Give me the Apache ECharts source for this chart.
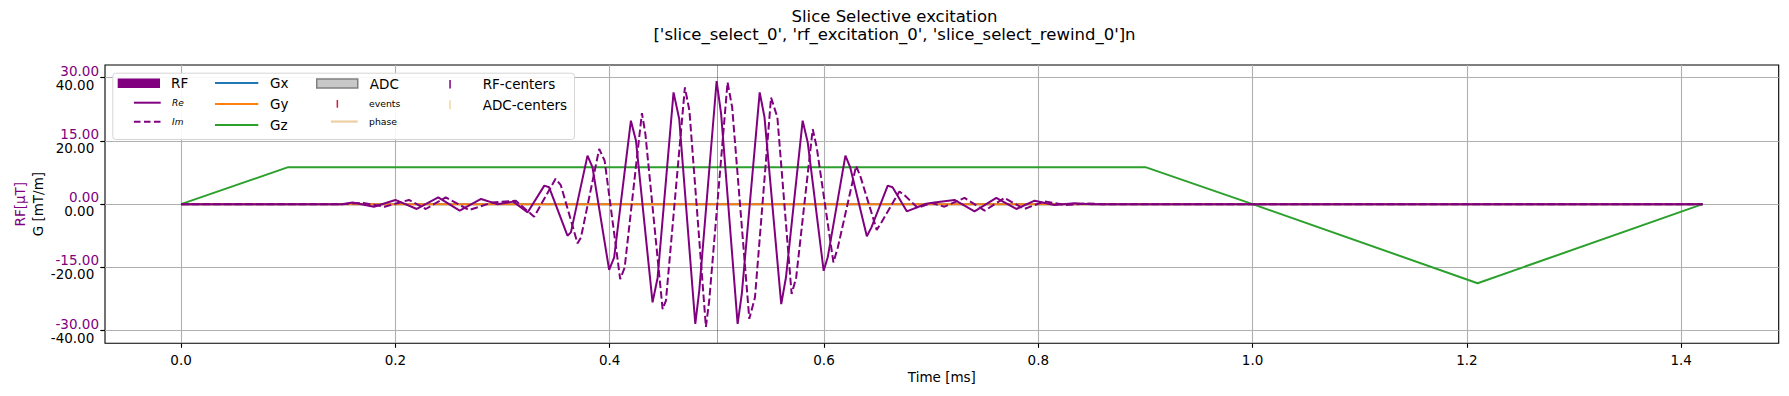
<!DOCTYPE html>
<html>
<head>
<meta charset="utf-8">
<script src="https://cdn.jsdelivr.net/npm/echarts@6.0.0/dist/echarts.min.js"></script>
<style>
html, body { margin: 0; padding: 0; background: #fff; }
#main { width: 1789px; height: 396px; }
</style>
</head>
<body>
<div id="main"></div>
<script>
// time axis in ms, RF in uT, gradients in mT/m
const xTicks = [0, 0.2, 0.4, 0.6, 0.8, 1.0, 1.2, 1.4]
const rfTicks = [-30, -15, 0, 15, 30]
const gTicks = [-40, -20, 0, 20, 40]

const rfRe = [[0,0],[0.15,0],[0.16,0.4],[0.18,-0.6],[0.2,1.0],[0.22,-1.14],[0.24,1.6],[0.26,-1.54],[0.28,1.23],
  [0.295,0.0],[0.31,0.6],[0.3235,-1.94],[0.339,4.39],[0.3435,4.0],[0.3606,-7.48],[0.3638,-6.7],[0.3793,11.5],
  [0.384,8.7],[0.3995,-15.6],[0.4042,-12.6],[0.4198,19.8],[0.4245,15.1],[0.44,-23.3],[0.4447,-17.5],[0.4596,26.5],
  [0.4649,20.2],[0.4799,-28.4],[0.4836,-20.5],[0.4998,29.2],[0.504,21.4],[0.5194,-28.4],[0.5233,-21.3],[0.54,26.5],
  [0.5445,20.6],[0.5601,-23.7],[0.5645,-17.4],[0.5801,19.8],[0.5848,14.7],[0.5997,-15.8],[0.6035,-12.6],[0.62,11.5],
  [0.6245,8.7],[0.64,-7.6],[0.6443,-5.5],[0.6595,4.4],[0.664,4.0],[0.6773,-1.7],[0.6954,0.1],[0.703,0.4],
  [0.7218,1.0],[0.7405,-1.7],[0.7608,1.47],[0.7795,-1.15],[0.7966,0.83],[0.815,-0.2],[0.834,0.2],[0.85,0],[1.42,0]]

// RF imaginary part (dashed)
const rfIm = [[0,0],[0.15,0],[0.17,0.3],[0.19,-0.6],[0.2127,1.0],[0.2283,-1.15],[0.247,1.6],[0.2688,-1.4],[0.2905,0.4],
  [0.3124,0.8],[0.3295,-2.97],[0.3495,6.0],[0.3544,4.5],[0.37,-9.3],[0.3732,-7.9],[0.3902,13.1],[0.3953,10.3],
  [0.4098,-17.8],[0.414,-15.0],[0.4301,21.6],[0.4333,16.7],[0.4494,-24.9],[0.4525,-22.9],[0.4702,27.7],[0.4744,22.2],
  [0.4898,-29.1],[0.4929,-22.9],[0.51,28.9],[0.5143,23.0],[0.5303,-27.2],[0.5356,-22.1],[0.5506,25.3],[0.5565,20.6],
  [0.5698,-21.3],[0.574,-17.5],[0.5895,17.8],[0.5932,13.5],[0.6088,-13.8],[0.6129,-10.3],[0.63,9.1],[0.6342,6.4],
  [0.6492,-6.1],[0.6537,-4.3],[0.6704,3.0],[0.6757,2.0],[0.6875,-0.9],[0.70,0.3],[0.7124,-0.6],[0.7312,1.47],
  [0.75,-1.54],[0.7685,1.47],[0.787,-1.15],[0.806,0.67],[0.825,-0.2],[0.845,0.15],[0.86,0],[1.42,0]]

const gx = [[0,0],[1.42,0]]
const gy = [[0,0],[1.42,0]]
const gz = [[0,0],[0.1,11.7],[0.9,11.7],[1.0,0],[1.21,-25.0],[1.42,0]]
const rfCenters = [0.5]

const FONT = 'DejaVu Sans'
const PURPLE = '#800080'
const LW = 2

// one legend component per entry so every handle sits where matplotlib put it
function legendItem(name, x, cy, w, h, icon, itemStyle, textX, fontSize, fontStyle) {
  const boxH = Math.max(h, fontSize)
  return {
    left: x, top: cy - boxH / 2, padding: 0,
    itemWidth: w, itemHeight: h, selectedMode: false,
    data: [{ name: name, icon: icon, itemStyle: itemStyle }],
    textStyle: { fontFamily: FONT, fontSize: fontSize, fontStyle: fontStyle || 'normal', color: '#000',
      padding: [0, 0, 0, textX - x - w - 5] }
  }
}
const dash = 'path://M0,0h6.5v2h-6.5zM10,0h6.5v2h-6.5zM20,0h6.5v2h-6.5z'
const legends = [
  legendItem('RF', 117.7, 83, 42.3, 9.4, 'rect', { color: PURPLE }, 171, 13.5),
  legendItem('Re', 134, 102.7, 26.7, 2, 'rect', { color: PURPLE }, 172, 9, 'italic'),
  legendItem('Im', 134, 121.7, 26.5, 2, dash, { color: PURPLE }, 172, 9, 'italic'),
  legendItem('Gx', 215, 82.7, 43.3, 2, 'rect', { color: '#1f77b4' }, 270, 13.5),
  legendItem('Gy', 215, 103.7, 43.3, 2, 'rect', { color: '#ff7f0e' }, 270, 13.5),
  legendItem('Gz', 215, 124.7, 43.3, 2, 'rect', { color: '#2ca02c' }, 270, 13.5),
  legendItem('ADC', 316, 83.3, 41, 9, 'rect', { color: '#c8c8c8', borderColor: '#808080', borderWidth: 1.5 }, 369, 13.5),
  legendItem('events', 336.6, 104, 1.5, 7.7, 'rect', { color: '#dc143c' }, 369, 9.3),
  legendItem('phase', 331, 121.7, 26.7, 2.2, 'rect', { color: '#ebcfa3' }, 369, 9.3),
  legendItem('RF-centers', 449.3, 84, 1.5, 8.3, 'rect', { color: PURPLE }, 482.7, 13.5),
  legendItem('ADC-centers', 449.3, 104.5, 1.5, 9, 'rect', { color: '#f5d3a6' }, 482.7, 13.5)
]

const myChart = echarts.init(document.getElementById('main'), null, { renderer: 'svg' })
myChart.setOption({
  animation: false,
  title: {
    text: "Slice Selective excitation\n['slice_select_0', 'rf_excitation_0', 'slice_select_rewind_0']n",
    left: 'center', top: 2,
    textStyle: { fontFamily: FONT, fontSize: 16.5, fontWeight: 'normal', color: '#000', lineHeight: 18.5 }
  },
  legend: legends,
  graphic: [{
    type: 'rect', left: 112.3, top: 72.7, z: 3,
    shape: { width: 461.7, height: 66.3, r: 3 },
    style: { fill: 'rgba(255,255,255,0.9)', stroke: '#d5d5d5', lineWidth: 1 }
  }],
  grid: { left: 105, top: 65, right: 10.3, bottom: 52.7, show: true, borderColor: '#000', borderWidth: 1.1, backgroundColor: 'transparent' },
  xAxis: {
    type: 'value', min: -0.071, max: 1.491,
    name: 'Time [ms]', nameLocation: 'middle', nameGap: 27, nameMoveOverlap: false,
    nameTextStyle: { fontFamily: FONT, fontSize: 13.5, color: '#000' },
    axisLine: { show: false, onZero: false },
    axisTick: { show: true, length: 4.5, customValues: xTicks, lineStyle: { color: '#000', width: 1.1 } },
    axisLabel: { customValues: xTicks, formatter: v => v.toFixed(1), margin: 10, fontFamily: FONT, fontSize: 13.5, color: '#000' },
    splitLine: { show: true, lineStyle: { color: '#b0b0b0', width: 1.1 } }
  },
  yAxis: [{
    type: 'value', min: -33, max: 33, position: 'left',
    name: 'RF[μT]', nameLocation: 'middle', nameRotate: 90, nameGap: 78, nameMoveOverlap: false,
    nameTextStyle: { fontFamily: FONT, fontSize: 13.5, color: PURPLE },
    axisLine: { show: false, onZero: false },
    axisTick: { show: true, length: 4.5, customValues: rfTicks, lineStyle: { color: '#000', width: 1.1 } },
    axisLabel: { customValues: rfTicks, formatter: v => v.toFixed(2), verticalAlign: 'bottom', margin: 6,
      fontFamily: FONT, fontSize: 13.5, color: PURPLE },
    splitLine: { show: true, lineStyle: { color: '#b0b0b0', width: 1.1 } }
  }, {
    type: 'value', min: -44, max: 44, position: 'left',
    name: 'G [mT/m]', nameLocation: 'middle', nameRotate: 90, nameGap: 60, nameMoveOverlap: false,
    nameTextStyle: { fontFamily: FONT, fontSize: 13.5, color: '#000' },
    axisLine: { show: false, onZero: false },
    axisTick: { show: true, length: 4.5, customValues: gTicks, lineStyle: { color: '#000', width: 1.1 } },
    axisLabel: { customValues: gTicks, formatter: v => v.toFixed(2), verticalAlign: 'top', margin: 10.7,
      fontFamily: FONT, fontSize: 13.5, color: '#000' },
    splitLine: { show: false }
  }],
  series: [
    { name: 'Gx', type: 'line', yAxisIndex: 1, data: gx, symbol: 'none', lineStyle: { color: '#1f77b4', width: LW }, itemStyle: { color: '#1f77b4' } },
    { name: 'Gy', type: 'line', yAxisIndex: 1, data: gy, symbol: 'none', lineStyle: { color: '#ff7f0e', width: LW }, itemStyle: { color: '#ff7f0e' } },
    { name: 'Gz', type: 'line', yAxisIndex: 1, data: gz, symbol: 'none', lineStyle: { color: '#2ca02c', width: LW }, itemStyle: { color: '#2ca02c' } },
    { name: 'Re', type: 'line', yAxisIndex: 0, data: rfRe, symbol: 'none', lineStyle: { color: PURPLE, width: LW }, itemStyle: { color: PURPLE } },
    { name: 'Im', type: 'line', yAxisIndex: 0, data: rfIm, symbol: 'none', lineStyle: { color: PURPLE, width: LW, type: [7.5, 3.2] }, itemStyle: { color: PURPLE } },
    {
      name: 'RF-centers', type: 'line', yAxisIndex: 0, data: [], symbol: 'none',
      markLine: {
        silent: true, symbol: 'none', label: { show: false },
        lineStyle: { color: PURPLE, width: 1, type: 'solid', opacity: 0.45 },
        data: rfCenters.map(t => ({ xAxis: t }))
      }
    },
    // entries that only appear in the legend
    { name: 'RF', type: 'line', data: [] },
    { name: 'ADC', type: 'line', data: [] },
    { name: 'events', type: 'line', data: [] },
    { name: 'phase', type: 'line', data: [] },
    { name: 'ADC-centers', type: 'line', data: [] }
  ]
})
</script>
</body>
</html>
